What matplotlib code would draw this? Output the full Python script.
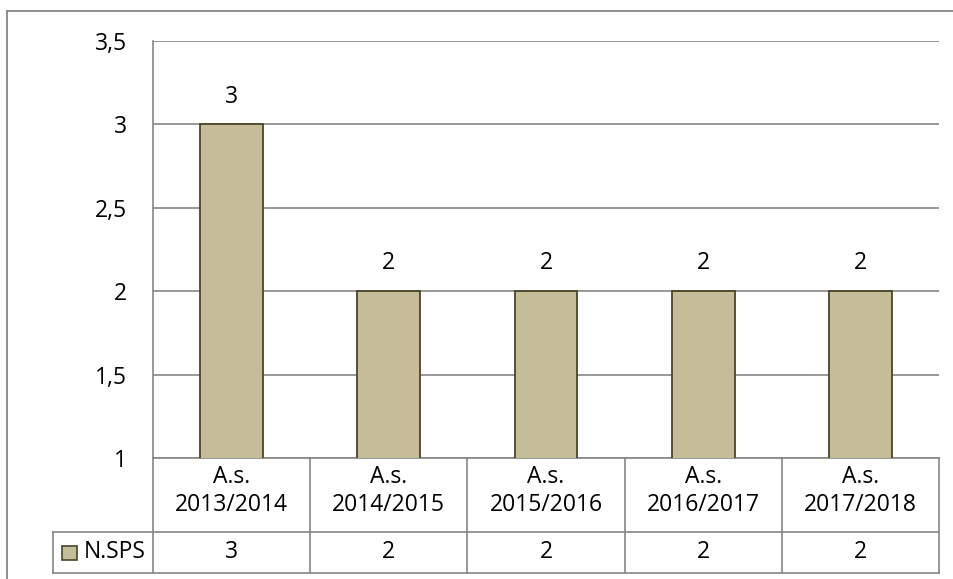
import matplotlib
matplotlib.use("Agg")
import matplotlib.pyplot as plt
from matplotlib.lines import Line2D
from matplotlib.patches import Rectangle
import matplotlib.transforms as mtransforms

# data
categories = ["A.s.\n2013/2014", "A.s.\n2014/2015", "A.s.\n2015/2016",
              "A.s.\n2016/2017", "A.s.\n2017/2018"]
values = [3, 2, 2, 2, 2]
series_name = "N.SPS"
yticks = [1, 1.5, 2, 2.5, 3, 3.5]
ytick_labels = ["1", "1,5", "2", "2,5", "3", "3,5"]

plt.rcParams['font.family'] = ['Open Sans', 'DejaVu Sans']
fs = 16.5
bar_color = "#C4BD97"
edge_color = "#4A452A"
grid_color = "#868686"

W, H = 954, 579
fig = plt.figure(figsize=(W / 100, H / 100), dpi=100)

# outer chart border (cut off at right and bottom in the reference)
fig.add_artist(Line2D([7 / W, 7 / W], [0, 1 - 10.5 / H], color=grid_color, lw=1.3))
fig.add_artist(Line2D([7 / W, 1], [1 - 10.5 / H, 1 - 10.5 / H], color=grid_color, lw=1.3))

left, right, top, bottom = 153, 939, 41, 458
ax = fig.add_axes([left / W, 1 - bottom / H, (right - left) / W, (bottom - top) / H])

x = list(range(len(categories)))
ax.bar(x, values, width=0.4, color=bar_color, edgecolor=edge_color, linewidth=1.3, zorder=3)
ax.set_xlim(-0.5, len(categories) - 0.5)
ax.set_ylim(1, 3.5)
ax.set_yticks(yticks)
ax.set_yticklabels(ytick_labels, fontsize=fs)
ax.tick_params(axis='y', length=0, pad=18.5)
ax.set_xticks([])
ax.grid(axis='y', color=grid_color, lw=1.2, zorder=0)
for s in ["top", "right"]:
    ax.spines[s].set_visible(False)
ax.spines["left"].set_color(grid_color)
ax.spines["left"].set_linewidth(1.2)
ax.spines["bottom"].set_color(grid_color)
ax.spines["bottom"].set_linewidth(1.2)

# data labels
for xi, v in zip(x, values):
    ax.annotate(str(v), (xi, v), xytext=(0, 20), textcoords="offset points",
                ha="center", va="center", fontsize=fs)

# data table under the plot
trans = mtransforms.blended_transform_factory(ax.transData, ax.transAxes)
ah = bottom - top
row1 = -(532 - bottom) / ah
row2 = -(573 - bottom) / ah
px_per_unit = (right - left) / len(categories)
xl = -0.5 - (left - 53) / px_per_unit
xr = len(categories) - 0.5
lk = dict(color=grid_color, lw=1.2, transform=trans, clip_on=False)

for i in range(len(categories) + 1):
    ax.add_line(Line2D([i - 0.5, i - 0.5], [0, row2], **lk))
ax.add_line(Line2D([xl, xr], [row1, row1], **lk))
ax.add_line(Line2D([xl, xr], [row2, row2], **lk))
ax.add_line(Line2D([xl, xl], [row1, row2], **lk))

cat_y = -(491 - bottom) / ah
for xi, cat, v in zip(x, categories, values):
    ax.text(xi, cat_y, cat, transform=trans, ha="center", va="center",
            fontsize=fs, linespacing=1.2)
    ax.text(xi, (row1 + row2) / 2, str(v), transform=trans, ha="center",
            va="center", fontsize=fs)

# legend key in the table
key_w = 15 / px_per_unit
key_h = 14 / ah
kx = -0.5 - (left - 62) / px_per_unit
ky = (row1 + row2) / 2 - key_h / 2
ax.add_patch(Rectangle((kx, ky), key_w, key_h, transform=trans, clip_on=False,
                       facecolor=bar_color, edgecolor=edge_color, lw=1.2))
ax.text(-0.5 - (left - 84) / px_per_unit, (row1 + row2) / 2, series_name,
        transform=trans, ha="left", va="center", fontsize=fs)

fig.savefig("out.png", dpi=100)
